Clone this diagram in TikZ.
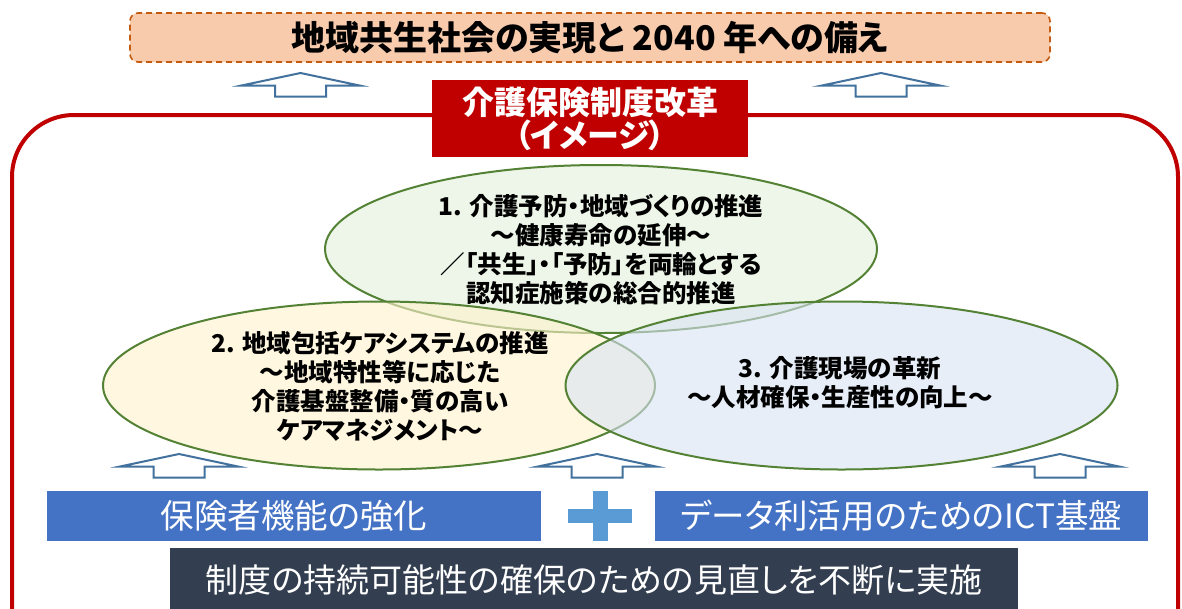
\documentclass[tikz,border=0pt]{standalone}
\usepackage{fontspec}
\setmainfont{Noto Sans CJK JP}[RawFeature=+palt]
\usetikzlibrary{shapes.geometric}
\definecolor{framered}{HTML}{C00000}
\definecolor{dashfill}{HTML}{F8CBAD}
\definecolor{dashline}{HTML}{C55A11}
\definecolor{arrowblue}{HTML}{41719C}
\definecolor{egreen}{HTML}{548235}
\definecolor{fillone}{HTML}{E2F0D9}
\definecolor{filltwo}{HTML}{FFF2CC}
\definecolor{fillthree}{HTML}{DAE3F3}
\definecolor{boxblue}{HTML}{4472C4}
\definecolor{plusblue}{HTML}{5B9BD5}
\definecolor{darkbox}{HTML}{333F50}
\tikzset{
  blockarrow/.pic={\draw[draw=arrowblue,line width=2pt,fill=white,line join=miter]
     (0,0) -- (59,12.5) -- (25.5,12.5) -- (25.5,23.5) -- (-25.5,23.5) -- (-25.5,12.5) -- (-59,12.5) -- cycle;},
  oval/.style={ellipse,draw=egreen,line width=2pt,fill opacity=0.6,
     minimum width=552pt,minimum height=168pt,inner sep=0pt},
  ovaltext/.style={align=center,font=\bfseries\fontsize{24.5}{29}\selectfont,text=black},
  bandbox/.style={fill=boxblue,text=white,inner sep=0pt,font=\fontsize{33.5}{36}\selectfont},
}
\begin{document}
\begin{tikzpicture}[x=1pt,y=-1pt]
\useasboundingbox (0,0) rectangle (1182,608);
\clip (0,0) rectangle (1182,608);
\fill[white] (0,0) rectangle (1182,608);
% top goal box
\node[draw=dashline,dashed,dash pattern=on 6pt off 4pt,line width=1.6pt,fill=dashfill,rounded corners=8pt,
  minimum width=920pt,minimum height=49pt,inner sep=0pt,
  font=\bfseries\fontsize{34}{36}\selectfont] (goal) at (590,37.5) {地域共生社会の実現と 2040 年への備え};
% top arrows
\pic at (300.5,73) {blockarrow};
\pic at (881,73) {blockarrow};
% red frame
\draw[framered,line width=4pt,rounded corners=62pt] (12,115) rectangle (1178,680);
% title box
\node[fill=framered,text=white,minimum width=316pt,minimum height=77pt,inner sep=0pt,align=center,
  font=\bfseries\fontsize{32}{33}\selectfont] (title) at (590,118.5) {介護保険制度改革\\（イメージ）};
% ellipses
\node[oval,fill=fillone] (e1) at (601,249) {};
\node[oval,fill=filltwo] (e2) at (379,385.5) {};
\node[oval,fill=fillthree] (e3) at (841.5,385.5) {};
\node[ovaltext] (t1) at (601,250) {1. 介護予防・地域づくりの推進\\～健康寿命の延伸～\\／「共生」・「予防」を両輪とする\\認知症施策の総合的推進};
\node[ovaltext] (t2) at (380,386) {2. 地域包括ケアシステムの推進\\～地域特性等に応じた\\介護基盤整備・質の高い\\ケアマネジメント～};
\node[ovaltext] (t3) at (840,383) {3. 介護現場の革新\\～人材確保・生産性の向上～};
% bottom arrows
\pic at (179,454) {blockarrow};
\pic at (597,454) {blockarrow};
\pic at (1060,454) {blockarrow};
% bottom boxes
\node[bandbox,minimum width=494pt,minimum height=50pt] (insurer) at (294,515.5) {保険者機能の強化};
\node[bandbox,minimum width=493pt,minimum height=50pt] (ict) at (901.5,515.5) {データ利活用のためのICT基盤};
\node[fill=plusblue,minimum width=15pt,minimum height=50pt,inner sep=0pt] (plusv) at (600,515.5) {};
\node[fill=plusblue,minimum width=64pt,minimum height=14pt,inner sep=0pt] (plush) at (600,515.5) {};
\node[fill=darkbox,text=white,minimum width=848pt,minimum height=64pt,inner sep=0pt,
  font=\fontsize{33}{36}\selectfont] (review) at (594,580) {制度の持続可能性の確保のための見直しを不断に実施};
\end{tikzpicture}
\end{document}
